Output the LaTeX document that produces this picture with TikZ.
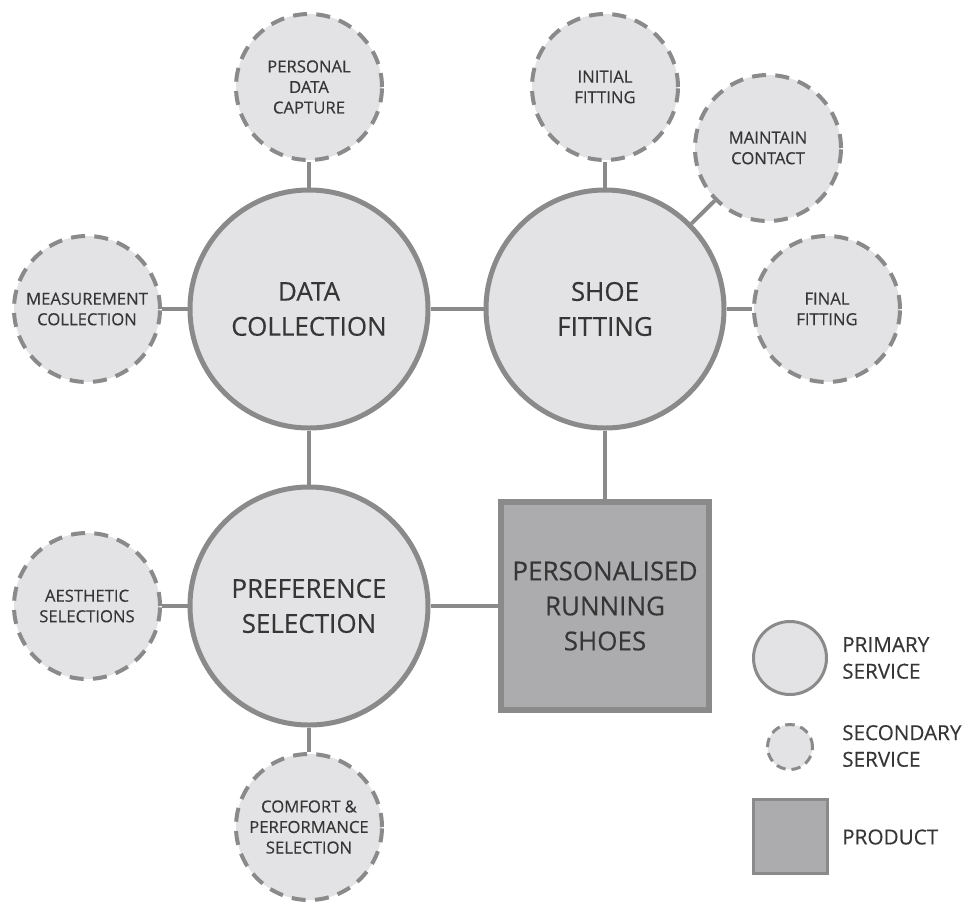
\documentclass[tikz,border=0pt]{standalone}
\usepackage{fontspec}
\setmainfont{Open Sans}[FakeBold=0.3]
\definecolor{bubble}{HTML}{E3E3E5}
\definecolor{edge}{HTML}{8A8A8A}
\definecolor{prodfill}{HTML}{ACACAE}
\definecolor{ink}{HTML}{363636}
\tikzset{
  primary/.style={circle, fill=bubble, draw=edge, line width=3.75pt,
    minimum size=178.5pt, inner sep=0pt, align=center, text=ink,
    font=\fontsize{19.5}{26.25}\selectfont},
  secondary/.style={circle, fill=bubble, draw=edge, line width=3pt,
    dash pattern=on 10.5pt off 7pt, minimum size=109.5pt, inner sep=0pt,
    align=center, text=ink, font=\fontsize{12.5}{15.4}\selectfont},
  productbox/.style={rectangle, fill=prodfill, draw=edge, line width=4.5pt,
    minimum size=156pt, inner sep=0pt, align=center, text=ink,
    font=\fontsize{19.5}{26.25}\selectfont},
  link/.style={draw=edge, line width=3pt},
  keyprimary/.style={circle, fill=bubble, draw=edge, line width=2.25pt,
    minimum size=54.75pt, inner sep=0pt},
  keysecondary/.style={circle, fill=bubble, draw=edge, line width=2.25pt,
    dash pattern=on 7pt off 4.5pt, minimum size=33.75pt, inner sep=0pt},
  keyproduct/.style={rectangle, fill=prodfill, draw=edge, line width=2.25pt,
    minimum size=55.5pt, inner sep=0pt},
  keytext/.style={anchor=west, align=left, text=ink, inner sep=0pt,
    font=\fontsize{15.5}{20}\selectfont}
}
\begin{document}
\begin{tikzpicture}[x=0.75pt,y=-0.75pt]
\useasboundingbox (0,0) rectangle (968,904);

% primary services
\node[primary] (dc) at (309,309) {DATA\\COLLECTION};
\node[primary] (sf) at (605,309) {SHOE\\FITTING};
\node[primary] (ps) at (309,606) {PREFERENCE\\SELECTION};

% product
\node[productbox] (prod) at (605,606) {PERSONALISED\\RUNNING\\SHOES};

% secondary services
\node[secondary] (pdc) at (309,87) {PERSONAL\\DATA\\CAPTURE};
\node[secondary] (inf) at (605,87) {INITIAL\\FITTING};
\node[secondary] (mc) at (768,148) {MAINTAIN\\CONTACT};
\node[secondary] (ff) at (827,309) {FINAL\\FITTING};
\node[secondary] (mcol) at (87,309) {MEASUREMENT\\COLLECTION};
\node[secondary] (aes) at (87,606) {AESTHETIC\\SELECTIONS};
\node[secondary] (cps) at (309,827) {COMFORT \&\\PERFORMANCE\\SELECTION};

% connectors
\draw[link] (dc) -- (sf);
\draw[link] (dc) -- (ps);
\draw[link] (sf) -- (prod);
\draw[link] (ps) -- (prod);
\draw[link] (pdc) -- (dc);
\draw[link] (mcol) -- (dc);
\draw[link] (inf) -- (sf);
\draw[link] (mc) -- (sf);
\draw[link] (ff) -- (sf);
\draw[link] (aes) -- (ps);
\draw[link] (cps) -- (ps);

% legend
\node[keyprimary] (k1) at (790,658) {};
\node[keysecondary] (k2) at (790,747) {};
\node[keyproduct] (k3) at (790,836) {};
\node[keytext] (t1) at (842,658) {PRIMARY\\SERVICE};
\node[keytext] (t2) at (842,746) {SECONDARY\\SERVICE};
\node[keytext] (t3) at (842,837) {PRODUCT};
\end{tikzpicture}
\end{document}
